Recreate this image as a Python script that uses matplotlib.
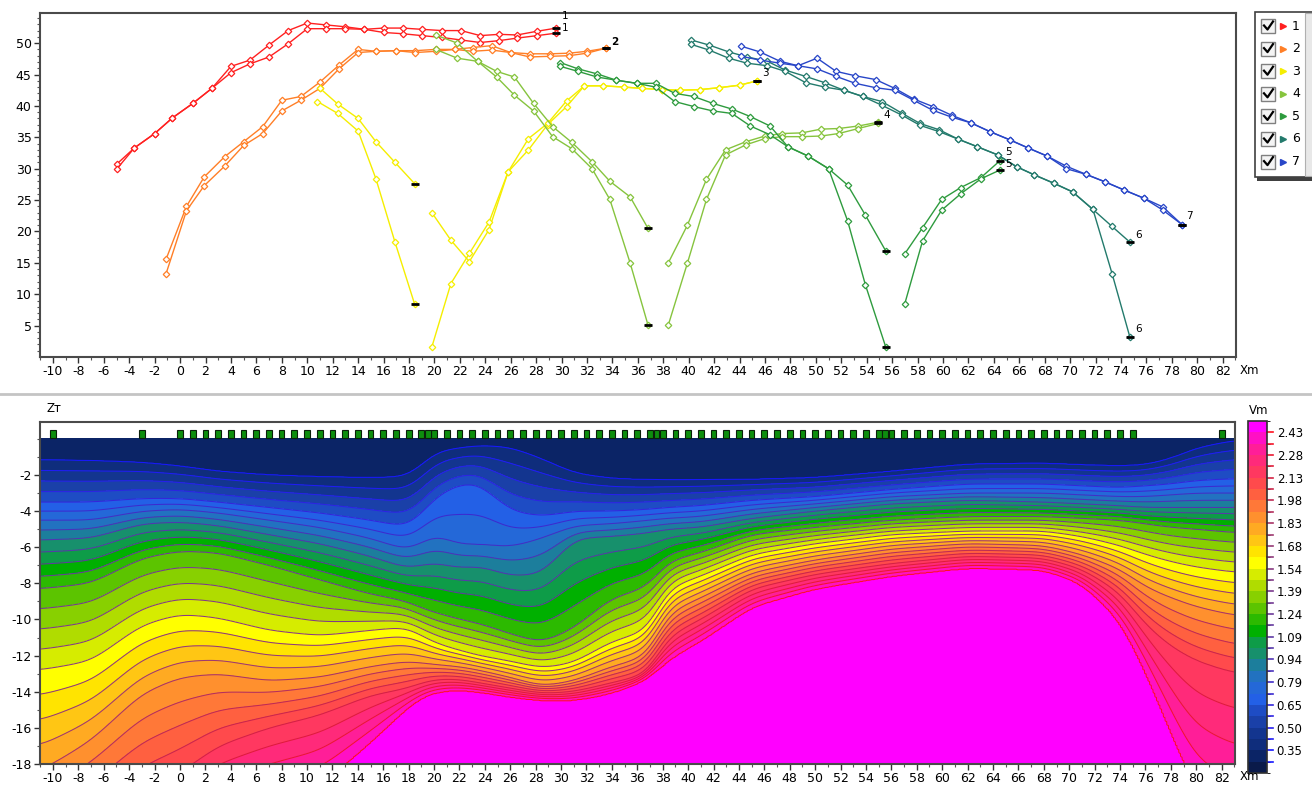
import numpy as np
import matplotlib
matplotlib.use("Agg")
import matplotlib.pyplot as plt
from matplotlib.colors import ListedColormap, BoundaryNorm, LinearSegmentedColormap
from matplotlib.lines import Line2D
from matplotlib.patches import Rectangle

plt.rcParams['font.family'] = ['DejaVu Sans']
plt.rcParams['axes.unicode_minus'] = False

# ---------- годографы (верхний график) ----------
x1 = [-5, -3.6, -2, -0.6, 1, 2.5, 4, 5.5, 7, 8.5, 10, 11.5, 13, 14.5, 16, 17.5, 19, 20.6, 22.1, 23.6, 25.1, 26.5, 28.1, 29.6]
y1a = [30.7, 33.3, 35.6, 38.1, 40.4, 42.8, 46.3, 47.3, 49.7, 52.0, 53.2, 52.9, 52.6, 52.2, 52.4, 52.4, 52.2, 52.0, 52.0, 51.2, 51.4, 51.3, 51.9, 52.4]
y1b = [29.9, 33.3, 35.6, 38.1, 40.4, 42.8, 45.3, 46.7, 47.8, 49.9, 52.3, 52.3, 52.3, 52.2, 51.7, 51.5, 51.2, 50.9, 50.5, 50.1, 50.4, 50.8, 51.2, 51.6]

x2 = [-1.1, 0.5, 1.9, 3.5, 5.0, 6.5, 8.0, 9.5, 11.0, 12.5, 14.0, 15.4, 17.0, 18.5, 20.1, 21.6, 23.0, 24.5, 26.0, 27.5, 29.1, 30.6, 32.0, 33.5]
y2a = [15.6, 24.0, 28.7, 31.9, 34.3, 36.7, 40.9, 41.5, 43.8, 46.5, 49.0, 48.7, 48.8, 48.8, 49.0, 49.0, 49.3, 49.6, 48.5, 48.3, 48.3, 48.4, 48.7, 49.2]
y2b = [13.3, 23.3, 27.3, 30.4, 33.7, 35.6, 39.2, 40.9, 42.8, 45.9, 48.5, 48.7, 48.8, 48.5, 48.7, 49.0, 48.7, 48.9, 48.5, 47.8, 47.9, 48.0, 48.4, 49.2]

x3a = [11.0, 12.4, 14.0, 15.4, 16.9, 18.45]
y3a = [42.8, 40.3, 38.0, 34.3, 31.0, 27.6]
x3b = [10.8, 12.4, 14.0, 15.4, 16.9, 18.45]
y3b = [40.7, 38.8, 36.0, 28.4, 18.3, 8.4]
x3c = [19.8, 21.3, 22.75, 24.3, 25.8, 27.4, 28.9, 30.4, 31.8, 33.3, 34.9, 36.3, 37.9, 39.3, 40.9, 42.4, 44.0, 45.4]
y3c = [23.0, 18.6, 15.2, 20.3, 29.5, 33.0, 37.0, 39.9, 43.2, 43.2, 43.0, 42.8, 42.6, 42.5, 42.6, 42.9, 43.3, 44.0]
y3d = [1.6, 11.7, 16.5, 21.5, 29.5, 34.8, 37.2, 40.8, 43.2, 43.2, 43.0, 42.8, 42.6, 42.5, 42.6, 42.9, 43.3, 44.0]

x4a = [20.1, 21.8, 23.4, 24.9, 26.3, 27.8, 29.3, 30.8, 32.4, 33.8, 35.4, 36.8]
y4a = [51.3, 50.0, 47.1, 45.5, 44.6, 40.4, 36.7, 34.2, 31.1, 28.0, 25.5, 20.5]
y4b = [49.0, 47.6, 47.1, 44.6, 41.7, 39.2, 35.1, 33.2, 30.0, 25.1, 14.95, 5.1]
x4c = [38.4, 39.9, 41.4, 42.9, 44.5, 46.0, 47.35, 48.9, 50.4, 51.8, 53.35, 54.9]
y4c = [15.0, 21.0, 28.3, 33.0, 34.3, 35.2, 35.6, 35.7, 36.3, 36.4, 36.8, 37.4]
y4d = [5.1, 14.95, 25.1, 32.2, 33.8, 34.8, 35.1, 35.1, 35.2, 35.6, 36.4, 37.2]

x5a = [29.9, 31.3, 32.8, 34.3, 35.9, 37.4, 38.9, 40.4, 41.9, 43.4, 44.85, 46.4, 47.8, 49.4, 51.0, 52.5, 53.9, 55.5]
y5a = [46.9, 45.9, 45.1, 44.1, 43.6, 43.6, 42.0, 41.5, 40.4, 39.5, 38.3, 36.8, 33.5, 32.0, 30.0, 27.4, 22.6, 16.9]
y5b = [46.3, 45.5, 44.6, 44.1, 43.6, 43.0, 40.7, 39.9, 39.2, 38.8, 36.8, 35.4, 33.5, 32.0, 30.0, 21.7, 11.5, 1.6]
x5c = [57.0, 58.4, 59.9, 61.4, 63.0, 64.5]
y5c = [16.45, 20.6, 25.1, 27.0, 28.6, 31.3]
y5d = [8.5, 18.5, 23.4, 26.0, 28.4, 29.8]

x6 = [40.2, 41.6, 43.15, 44.6, 46.2, 47.6, 49.2, 50.7, 52.2, 53.7, 55.2, 56.8, 58.2, 59.7, 61.2, 62.7, 64.3, 65.8, 67.2, 68.7, 70.2, 71.8, 73.3, 74.7]
y6a = [50.5, 49.7, 48.6, 47.8, 47.1, 45.7, 44.7, 43.7, 42.5, 41.5, 40.7, 38.8, 37.2, 36.2, 34.7, 33.5, 32.2, 30.3, 29.0, 27.7, 26.3, 23.5, 20.8, 18.3]
y6b = [49.8, 48.9, 47.6, 46.8, 46.4, 45.5, 43.7, 43.0, 42.5, 41.5, 40.1, 38.5, 36.9, 35.9, 34.7, 33.5, 32.2, 30.3, 29.0, 27.7, 26.3, 23.5, 13.3, 3.2]

x7 = [44.15, 45.6, 47.2, 48.6, 50.1, 51.6, 53.1, 54.7, 56.2, 57.7, 59.2, 60.7, 62.2, 63.7, 65.25, 66.7, 68.2, 69.7, 71.25, 72.75, 74.25, 75.8, 77.3, 78.8]
y7a = [49.5, 48.6, 47.1, 46.4, 47.6, 45.5, 44.8, 44.2, 42.8, 41.1, 39.9, 38.5, 37.3, 35.9, 34.6, 33.3, 32.0, 30.4, 29.1, 27.9, 26.6, 25.3, 23.9, 21.1]
y7b = [47.9, 47.3, 46.8, 46.4, 45.9, 44.7, 43.6, 42.9, 42.5, 40.9, 39.3, 38.2, 37.3, 35.9, 34.6, 33.3, 32.0, 30.0, 29.1, 27.9, 26.6, 25.3, 23.4, 21.1]

group_names = ['1', '2', '3', '4', '5', '6', '7']
group_colors = ['#ff2020', '#ff7f27', '#f5ee00', '#86c43e', '#2e9b3e', '#237a6c', '#2846c8']
curves = [
    [(x1, y1a), (x1, y1b)],
    [(x2, y2a), (x2, y2b)],
    [(x3a, y3a), (x3b, y3b), (x3c, y3c), (x3c, y3d)],
    [(x4a, y4a), (x4a, y4b), (x4c, y4c), (x4c, y4d)],
    [(x5a, y5a), (x5a, y5b), (x5c, y5c), (x5c, y5d)],
    [(x6, y6a), (x6, y6b)],
    [(x7, y7a), (x7, y7b)],
]
end_label_x = [30.0, 30.0, 33.9, 45.8, 55.3, 64.9, 64.9, 75.1, 75.1, 79.1]
end_label_y = [54.4, 52.4, 50.2, 45.2, 38.5, 32.6, 30.7, 19.5, 4.5, 22.4]
end_label_t = ['1', '1', '2', '3', '4', '5', '5', '6', '6', '7']

# ---------- разрез (нижний график) ----------
elec_x = [-10, -3] + list(range(0, 76)) + [19.5, 37.5, 55.5, 82]

# профили: глубина изолиний на пикетах
st_x = [-11, -7, -3, 0, 3, 7, 11, 15, 18, 19, 20, 22, 23.5, 26, 28.5, 31, 34, 37, 38.2, 41, 45, 50, 56, 62, 68, 71, 74, 76, 78, 80, 83.2]
z_035 = [-1.16, -1.2, -1.3, -1.5, -1.8, -2.0, -2.1, -2.15, -2.1, -1.5, -0.7, -0.5, -0.35, -0.45, -1.1, -1.9, -2.2, -2.27, -2.27, -2.27, -2.25, -2.15, -1.8, -1.4, -1.35, -1.44, -1.5, -1.45, -1.1, -0.5, -0.05]
z_065 = [-3.5, -3.5, -3.3, -3.3, -3.5, -3.8, -4.1, -4.5, -4.9, -4.2, -3.2, -2.5, -2.4, -4.0, -4.3, -4.0, -4.0, -3.9, -3.8, -3.7, -3.4, -3.2, -2.8, -2.5, -2.5, -2.6, -2.7, -2.6, -2.5, -2.3, -2.2]
z_079 = [-4.5, -4.5, -4.0, -3.9, -4.1, -4.5, -4.9, -5.5, -6.2, -5.8, -5.2, -5.9, -5.8, -6.0, -5.5, -4.8, -4.7, -4.5, -4.4, -4.3, -3.9, -3.6, -3.2, -3.0, -3.0, -3.1, -3.2, -3.2, -3.1, -3.0, -3.0]
z_094 = [-5.6, -5.5, -4.7, -4.6, -4.8, -5.3, -5.8, -6.5, -7.2, -7.0, -6.8, -7.2, -7.0, -7.6, -7.5, -5.5, -5.4, -5.2, -5.0, -4.9, -4.4, -4.0, -3.6, -3.4, -3.5, -3.6, -3.7, -3.8, -3.8, -3.8, -3.8]
z_124 = [-8.3, -8.0, -6.6, -6.2, -6.3, -7.0, -7.8, -8.6, -9.0, -9.4, -9.6, -10.0, -10.2, -10.8, -11.3, -10.5, -8.8, -8.2, -6.8, -6.3, -5.3, -4.9, -4.5, -4.3, -4.3, -4.4, -4.5, -4.7, -4.9, -5.0, -5.2]
z_154 = [-12.8, -12.3, -10.3, -9.7, -9.9, -10.6, -10.9, -10.6, -10.4, -10.9, -11.3, -11.7, -12.0, -12.3, -12.7, -12.4, -11.2, -10.6, -8.3, -7.6, -6.4, -5.8, -5.3, -5.1, -5.1, -5.4, -5.9, -6.4, -6.8, -7.1, -7.4]
z_183 = [-18.4, -16.7, -14.1, -13.2, -13.0, -13.4, -13.2, -12.6, -12.3, -12.4, -12.5, -12.6, -12.8, -13.2, -13.7, -13.4, -12.6, -12.0, -9.7, -8.8, -7.4, -6.7, -6.1, -5.8, -5.9, -6.4, -7.2, -8.2, -8.8, -9.3, -9.8]
z_213 = [-23.5, -21.5, -19.5, -18.5, -17.0, -16.0, -15.3, -14.2, -13.8, -13.5, -13.3, -13.3, -13.5, -13.8, -14.1, -14.0, -13.5, -13.0, -11.0, -10.0, -8.3, -7.5, -6.9, -6.5, -6.6, -7.2, -8.5, -10.3, -11.5, -12.3, -13.0]
z_243 = [-29, -27, -24, -22, -21, -20, -19.2, -16.8, -14.8, -14.3, -14.0, -13.9, -14.0, -14.3, -14.5, -14.5, -14.1, -13.3, -12.3, -11.2, -9.3, -8.3, -7.6, -7.15, -7.25, -8.0, -10.0, -12.8, -16.2, -19.5, -21]
v_top = 0.30

cb_labels = ['0.35', '0.50', '0.65', '0.79', '0.94', '1.09', '1.24', '1.39', '1.54',
             '1.68', '1.83', '1.98', '2.13', '2.28', '2.43']
band_colors = ['#0a1a4a', '#0b2466', '#0f2d7c', '#13358f', '#1a40a8', '#1e4cc4', '#2360e6',
               '#2468d8', '#2272c0', '#1c7e9c', '#17906c', '#0e9c48', '#00b000', '#2cba00',
               '#5cc400', '#88d000', '#b0dc00', '#d6ec00', '#ffff00', '#ffe400', '#ffc614',
               '#ffaa22', '#ff902e', '#ff7838', '#ff6040', '#ff4a4c', '#ff3860', '#ff2a7a',
               '#ff1e98', '#ff10c4', '#ff00ff']

step = (2.43 - 0.35) / 28
levels = 0.35 + step * np.arange(-2, 30)
anchor_idx = [2, 6, 8, 10, 14, 18, 22, 26, 30]
anchor_v = levels[anchor_idx]
z_rows = np.array([z_035, z_065, z_079, z_094, z_124, z_154, z_183, z_213, z_243])

gx = np.linspace(-11, 83.2, 700)
gz = np.linspace(-18, 0, 500)

# глубины изолиний на мелкой сетке, слегка сглаженные вдоль профиля
fine_rows = np.array([np.interp(gx, st_x, r) for r in z_rows])
sig = 0.9 / (gx[1] - gx[0])
kk = np.arange(-int(3 * sig), int(3 * sig) + 1)
ker = np.exp(-0.5 * (kk / sig) ** 2)
ker /= ker.sum()
pad = len(kk) // 2
fine_rows = np.array([np.convolve(np.pad(r, pad, mode='edge'), ker, mode='valid') for r in fine_rows])

V = np.zeros((gz.size, gx.size))
vv = np.concatenate(([2.49], anchor_v[::-1], [v_top]))
for j in range(gx.size):
    zz = np.concatenate(([-60.0], fine_rows[::-1, j], [0.0]))
    V[:, j] = np.interp(gz, zz, vv)

fill_cmap = ListedColormap(band_colors)
fill_norm = BoundaryNorm(levels, fill_cmap.N)
line_cmap = LinearSegmentedColormap.from_list('ln', ['#1818ff', '#5a3aa8', '#9a3a72', '#ff1020'])
line_levels = levels[2:-1]
line_cols = [line_cmap((lv - 0.35) / (2.43 - 0.35)) for lv in line_levels]

W, H = 1312, 787
fig = plt.figure(figsize=(W / 100, H / 100), dpi=100)
fig.patch.set_facecolor('white')


def frac(l, t, r, b):
    return [l / W, 1 - b / H, (r - l) / W, (b - t) / H]


spine_c = '#4a4a4a'
XMIN, XMAX = -11.02, 83.05

# верхний график
ax1 = fig.add_axes(frac(40, 13, 1236, 357))
for gi in range(len(curves)):
    for cx, cy in curves[gi]:
        ax1.plot(cx, cy, '-', color=group_colors[gi], lw=1.0, marker='D', ms=3.3,
                 mfc='white', mew=0.9, zorder=3)
        ax1.plot(cx[-1], cy[-1], marker='_', color='k', ms=6, mew=2.0, zorder=4)
for tx, ty, tt in zip(end_label_x, end_label_y, end_label_t):
    ax1.text(tx, ty, tt, fontsize=7.5, color='black', ha='left', va='center',
             fontweight='bold' if tt == '2' else 'normal', zorder=5)
ax1.set_xlim(XMIN, XMAX)
ax1.set_ylim(0, 54.8)
ax1.set_xticks(range(-10, 84, 2))
ax1.set_xticks(range(-11, 84), minor=True)
ax1.set_yticks(range(5, 55, 5))
ax1.set_yticks(range(1, 55), minor=True)

# нижний график
ax2 = fig.add_axes(frac(40, 421.7, 1235, 764))
cf = ax2.contourf(gx, gz, V, levels=levels, cmap=fill_cmap, norm=fill_norm)
ax2.contour(gx, gz, V, levels=line_levels, colors=line_cols, linewidths=0.75)
ax2.bar(elec_x, 0.44, width=0.45, bottom=0.03, color='#0e8e0e', edgecolor='#0a200a',
        lw=0.8, align='center', zorder=4)
ax2.set_xlim(XMIN, XMAX)
ax2.set_ylim(-18, 0.95)
ax2.set_xticks(range(-10, 84, 2))
ax2.set_xticks(range(-11, 84), minor=True)
ax2.set_yticks(range(-18, 0, 2))
ax2.set_yticks(range(-18, 1), minor=True)

for ax in (ax1, ax2):
    for s in ax.spines.values():
        s.set_color(spine_c)
        s.set_linewidth(1.5)
    ax.tick_params(which='major', direction='out', length=4, width=1, labelsize=9,
                   color='#333333', pad=2)
    ax.tick_params(which='minor', direction='out', length=2.5, width=0.8, color='#555555')

fig.text(1240 / W, 1 - 371 / H, 'Xm', fontsize=8.5, va='center', ha='left')
fig.text(1240 / W, 1 - 777 / H, 'Xm', fontsize=8.5, va='center', ha='left')
fig.text(46 / W, 1 - 408 / H, 'Zт', fontsize=8.5, va='center', ha='left')
fig.text(1249 / W, 1 - 410 / H, 'Vm', fontsize=8.5, va='center', ha='left')

# разделитель
fig.add_artist(Line2D([0, 1], [1 - 394 / H] * 2, color='#c4c4c4', lw=2.0))

# шкала
cax = fig.add_axes(frac(1248, 421, 1267, 773))
cb = fig.colorbar(cf, cax=cax, ticks=levels[2:-1:2])
cb.set_ticklabels(cb_labels)
cb.outline.set_edgecolor('#303030')
cb.outline.set_linewidth(1.2)
cax.tick_params(axis='y', length=0, labelsize=8.5, pad=7)
ytr = cax.get_yaxis_transform()
for lv in levels[1:-1]:
    c = line_cmap(min(max((lv - 0.35) / (2.43 - 0.35), 0), 1))
    cax.plot([1.0, 1.3], [lv, lv], transform=ytr, color=c, lw=1.2, clip_on=False)

# легенда
lax = fig.add_axes(frac(1255, 12, 1320, 180))
lax.set_xlim(0, 65)
lax.set_ylim(168, 0)
lax.axis('off')
lax.add_patch(Rectangle((2, 3), 62, 166, facecolor='#404040', edgecolor='none', clip_on=False))
lax.add_patch(Rectangle((0, 0), 62, 165, facecolor='white', edgecolor='#404040', lw=1.2, clip_on=False))
lax.add_patch(Rectangle((50, 1), 10, 163, facecolor='#e8e8e8', edgecolor='#b0b0b0', lw=0.8, clip_on=False))
for i, (nm, col) in enumerate(zip(group_names, group_colors)):
    yc = 14 + i * 22.6
    lax.add_patch(Rectangle((6, yc - 7), 14, 14, facecolor='#f4f4f4', edgecolor='#808080', lw=1.0))
    lax.plot([9, 12.5, 18], [yc - 0.5, yc + 3.5, yc - 4.5], color='black', lw=1.6)
    lax.plot([28], [yc], marker='>', color=col, ms=4)
    lax.text(37, yc, nm, fontsize=9, va='center', ha='left')

fig.savefig('out.png', dpi=100)
